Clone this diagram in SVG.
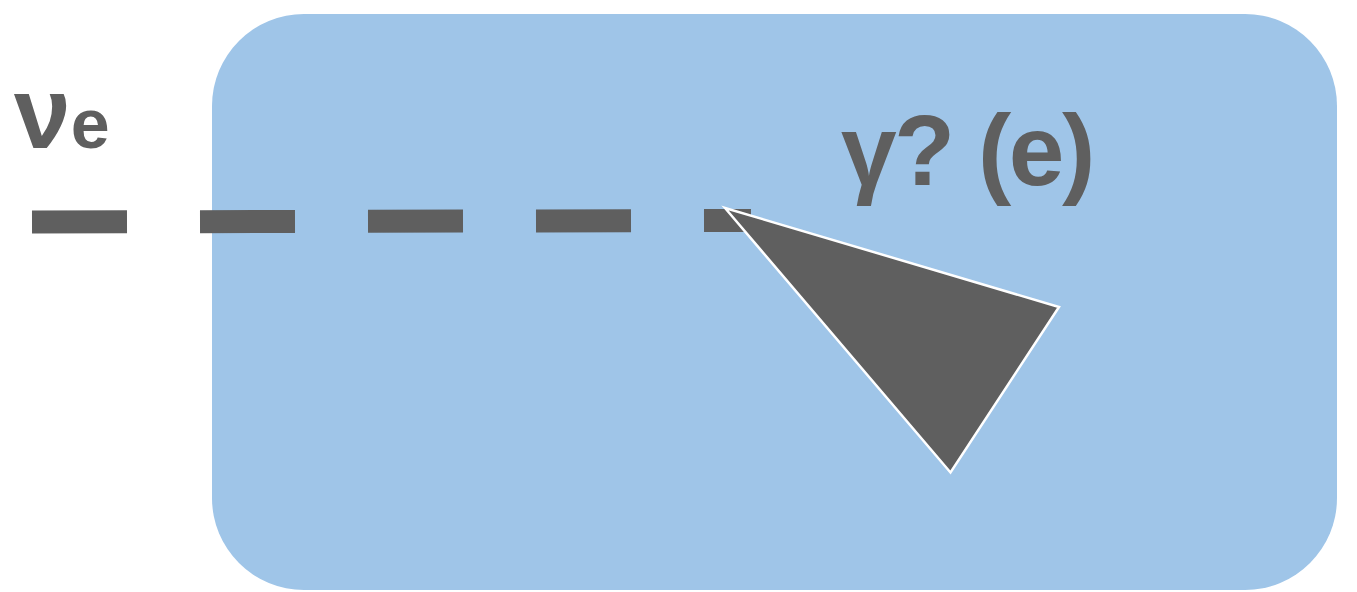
<svg xmlns="http://www.w3.org/2000/svg" width="1357" height="592" viewBox="0 0 1357 592">
<style>
.lbl{font-family:"Liberation Sans",Arial,sans-serif;font-weight:bold;fill:#5f5f5f}
.box{fill:#9fc5e8}
.conn{stroke:#5f5f5f;stroke-width:23;fill:none;stroke-dasharray:95 73}
.head{fill:#5f5f5f;stroke:#ffffff;stroke-width:2.5;stroke-linejoin:miter}
</style>
<rect width="1357" height="592" fill="#ffffff"/>
<g id="region">
<rect class="box" x="212" y="14" width="1125" height="576" rx="92" ry="92"/>
<text class="lbl" x="841" y="185" font-size="100" letter-spacing="-2.5">γ? (e)</text>
</g>
<g id="label-nu">
<text class="lbl" x="14" y="148" font-size="102">ν<tspan font-size="70">e</tspan></text>
</g>
<g id="connectors">
<path class="conn" d="M32 222 L751 220.5"/>
<polygon class="head" points="725,208 1059,307 950.5,472.5"/>
</g>
</svg>
